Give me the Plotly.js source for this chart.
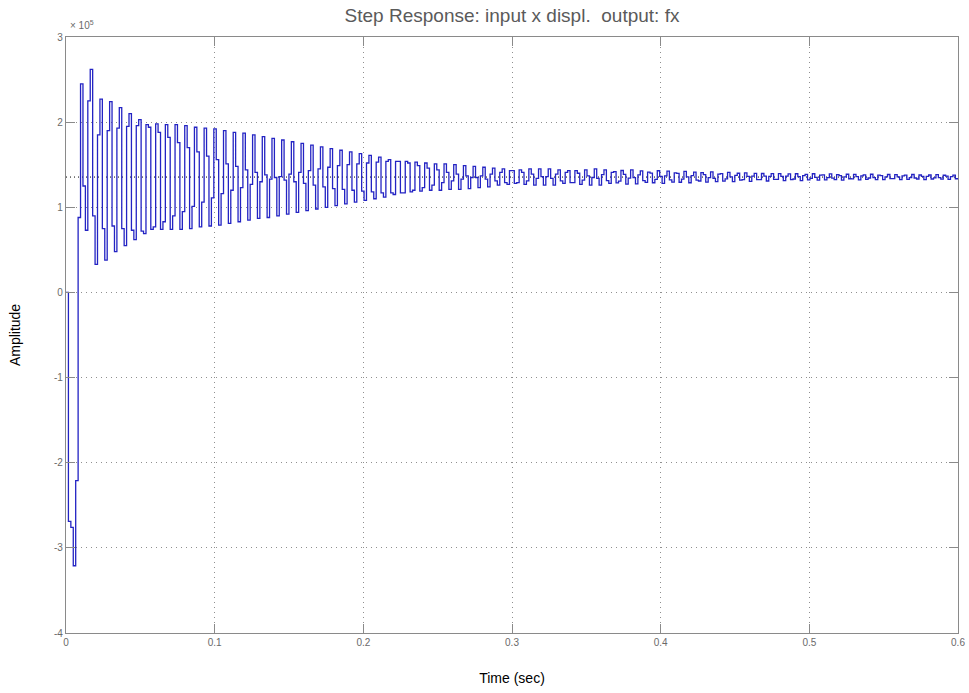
<!DOCTYPE html>
<html>
<head>
<meta charset="utf-8">
<script src="https://cdn.plot.ly/plotly-3.0.1.min.js"></script>
<style>html,body{margin:0;padding:0;background:#fff;}#chart{width:969px;height:693px;}</style>
</head>
<body>
<div id="chart"></div>
<script>
// Sample period (s) of the discrete step response
const sampleTime = 0.00163;
// Steady-state (final) value, x 10^5
const finalValue = 1.355;

// Response samples, in units of 10^5
const ampTransient = [
  0, -2.69, -2.76, -3.21, -2.21, 0.88, 2.45, 1.25, 0.73, 2.25,
  2.62, 0.90, 0.33, 1.85, 2.27, 0.75, 0.38, 1.90, 2.24, 0.78,
  0.48, 1.93, 2.17, 0.75, 0.55, 1.95, 2.10, 0.73, 0.62, 1.96,
  2.03, 0.72, 0.69
];
const ampDecay = [
  1.97, 1.94, 0.74, 0.77,  1.98, 1.88, 0.74, 0.83,  1.97, 1.82, 0.74, 0.90,
  1.97, 1.76, 0.74, 0.95,  1.96, 1.70, 0.75, 1.01,  1.94, 1.65, 0.77, 1.06,
  1.93, 1.60, 0.78, 1.11,  1.92, 1.56, 0.79, 1.16,  1.90, 1.51, 0.81, 1.20,
  1.88, 1.48, 0.83, 1.23,  1.87, 1.44, 0.85, 1.27,  1.85, 1.41, 0.87, 1.30,
  1.83, 1.38, 0.88, 1.33,  1.81, 1.35, 0.90, 1.36,  1.79, 1.32, 0.92, 1.39,
  1.77, 1.30, 0.94, 1.41,  1.75, 1.28, 0.96, 1.43,  1.73, 1.26, 0.98, 1.45,
  1.71, 1.24, 1.00, 1.47,  1.69, 1.22, 1.02, 1.49,  1.67, 1.21, 1.04, 1.50,
  1.65, 1.20, 1.06, 1.51,  1.63, 1.19, 1.08, 1.52,  1.61, 1.18, 1.10, 1.53,
  1.59, 1.17, 1.12, 1.54,  1.56, 1.17, 1.15, 1.54,  1.54, 1.17, 1.17, 1.54
];
const ampMid = [
  1.52, 1.18, 1.20, 1.53, 1.49, 1.19, 1.23, 1.52, 1.46, 1.20,
  1.26, 1.51, 1.44, 1.20, 1.29, 1.51, 1.41, 1.21, 1.31, 1.50,
  1.39, 1.21, 1.33, 1.49, 1.37, 1.22, 1.35, 1.48, 1.35, 1.23,
  1.37, 1.47, 1.33, 1.24, 1.39, 1.46, 1.31, 1.26, 1.41, 1.45,
  1.29, 1.27, 1.43, 1.43, 1.28, 1.29, 1.44, 1.41, 1.27, 1.31,
  1.45, 1.39, 1.26, 1.34, 1.45, 1.36, 1.26, 1.36, 1.45, 1.34,
  1.26, 1.39, 1.44, 1.31, 1.28, 1.41, 1.43, 1.29, 1.29, 1.43,
  1.40, 1.27, 1.32, 1.44, 1.37, 1.26, 1.35, 1.45, 1.34, 1.26
];
const ampLate = [
  1.383, 1.439, 1.312, 1.280, 1.411, 1.418, 1.287, 1.307, 1.432, 1.386,
  1.273, 1.342, 1.439, 1.349, 1.274, 1.380, 1.428, 1.313, 1.293, 1.412,
  1.401, 1.288, 1.327, 1.429, 1.363, 1.281, 1.368, 1.424, 1.323, 1.296,
  1.404, 1.398, 1.294, 1.331, 1.422, 1.358, 1.288, 1.373, 1.414, 1.318,
  1.309, 1.407, 1.383, 1.295, 1.348, 1.416, 1.340, 1.301, 1.389, 1.396,
  1.307, 1.333, 1.410, 1.356, 1.301, 1.375, 1.400, 1.318, 1.326, 1.403,
  1.364, 1.305, 1.367, 1.399, 1.325, 1.325, 1.397, 1.366, 1.309, 1.364,
  1.395, 1.328, 1.327, 1.395, 1.364, 1.312, 1.366, 1.392, 1.326, 1.332
];
const ampTail = [
  1.394, 1.359, 1.314, 1.371, 1.387, 1.323, 1.339, 1.394, 1.351, 1.318,
  1.377, 1.380, 1.321, 1.348, 1.392, 1.343, 1.324, 1.383, 1.371, 1.320,
  1.358, 1.388, 1.335, 1.333, 1.387, 1.360, 1.321, 1.368, 1.381, 1.328,
  1.344, 1.388, 1.348, 1.326, 1.377, 1.371, 1.324, 1.356, 1.385, 1.337,
  1.336, 1.384, 1.358, 1.325, 1.369, 1.377, 1.328, 1.349, 1.385, 1.344,
  1.332, 1.379, 1.364, 1.326, 1.364, 1.379, 1.332, 1.345, 1.383, 1.348,
  1.331, 1.376, 1.366, 1.327, 1.361, 1.378, 1.335, 1.344
];

const xTickVals = [0, 0.1, 0.2, 0.3, 0.4, 0.5, 0.6];
const xTickText = ['0', '0.1', '0.2', '0.3', '0.4', '0.5', '0.6'];
const yTickVals = [-4, -3, -2, -1, 0, 1, 2, 3];
const yTickText = ['-4', '-3', '-2', '-1', '0', '1', '2', '3'];

const amplitude = [].concat(ampTransient, ampDecay, ampMid, ampLate, ampTail);
const times = amplitude.map((_, k) => k * sampleTime);

const axisColor = '#8a8a8a';
const tickFont = {family: 'Liberation Sans, Arial, sans-serif', size: 10, color: '#6a6a6a'};

const data = [
  {
    x: [xTickVals[0], xTickVals[xTickVals.length - 1]],
    y: [finalValue, finalValue],
    mode: 'lines',
    line: {color: '#000000', width: 1, dash: '1px,3px'},
    hoverinfo: 'skip',
    showlegend: false
  },
  {
    x: times,
    y: amplitude,
    mode: 'lines',
    line: {color: 'rgb(35,35,195)', width: 1.3, shape: 'hv'},
    showlegend: false
  }
];

const layout = {
  width: 969,
  height: 693,
  paper_bgcolor: '#ffffff',
  plot_bgcolor: '#ffffff',
  margin: {l: 66, r: 11, t: 37, b: 60},
  showlegend: false,
  title: {
    text: 'Step Response: input x displ.  output: fx',
    font: {family: 'Liberation Sans, Arial, sans-serif', size: 19, color: '#5a5a5a'},
    x: 0.5, xref: 'paper', xanchor: 'center',
    y: 0.978, yref: 'container', yanchor: 'middle'
  },
  xaxis: {
    range: [0, 0.6],
    tickvals: xTickVals,
    ticktext: xTickText,
    ticks: 'inside',
    ticklen: 9,
    tickcolor: axisColor,
    tickfont: tickFont,
    showline: true,
    linecolor: axisColor,
    linewidth: 1.2,
    mirror: 'ticks',
    showgrid: true,
    gridcolor: '#8f8f8f',
    griddash: '1px,4px',
    gridwidth: 1,
    zeroline: false,
    title: {text: 'Time (sec)', font: {family: 'Liberation Sans, Arial, sans-serif', size: 14, color: '#000'}, standoff: 26}
  },
  yaxis: {
    range: [-4, 3],
    tickvals: yTickVals,
    ticktext: yTickText,
    ticks: 'inside',
    ticklen: 9,
    tickcolor: axisColor,
    tickfont: tickFont,
    showline: true,
    linecolor: axisColor,
    linewidth: 1.2,
    mirror: 'ticks',
    showgrid: true,
    gridcolor: '#8f8f8f',
    griddash: '1px,4px',
    gridwidth: 1,
    zeroline: false,
    title: {text: 'Amplitude', font: {family: 'Liberation Sans, Arial, sans-serif', size: 14, color: '#000'}, standoff: 30}
  },
  annotations: [
    {
      text: '× 10<sup>5</sup>',
      xref: 'paper', yref: 'paper',
      x: 0.002, y: 1.006,
      xanchor: 'left', yanchor: 'bottom',
      showarrow: false,
      font: {family: 'Liberation Sans, Arial, sans-serif', size: 10, color: '#6a6a6a'}
    }
  ]
};

Plotly.newPlot('chart', data, layout, {displayModeBar: false, staticPlot: true});
</script>
</body>
</html>
